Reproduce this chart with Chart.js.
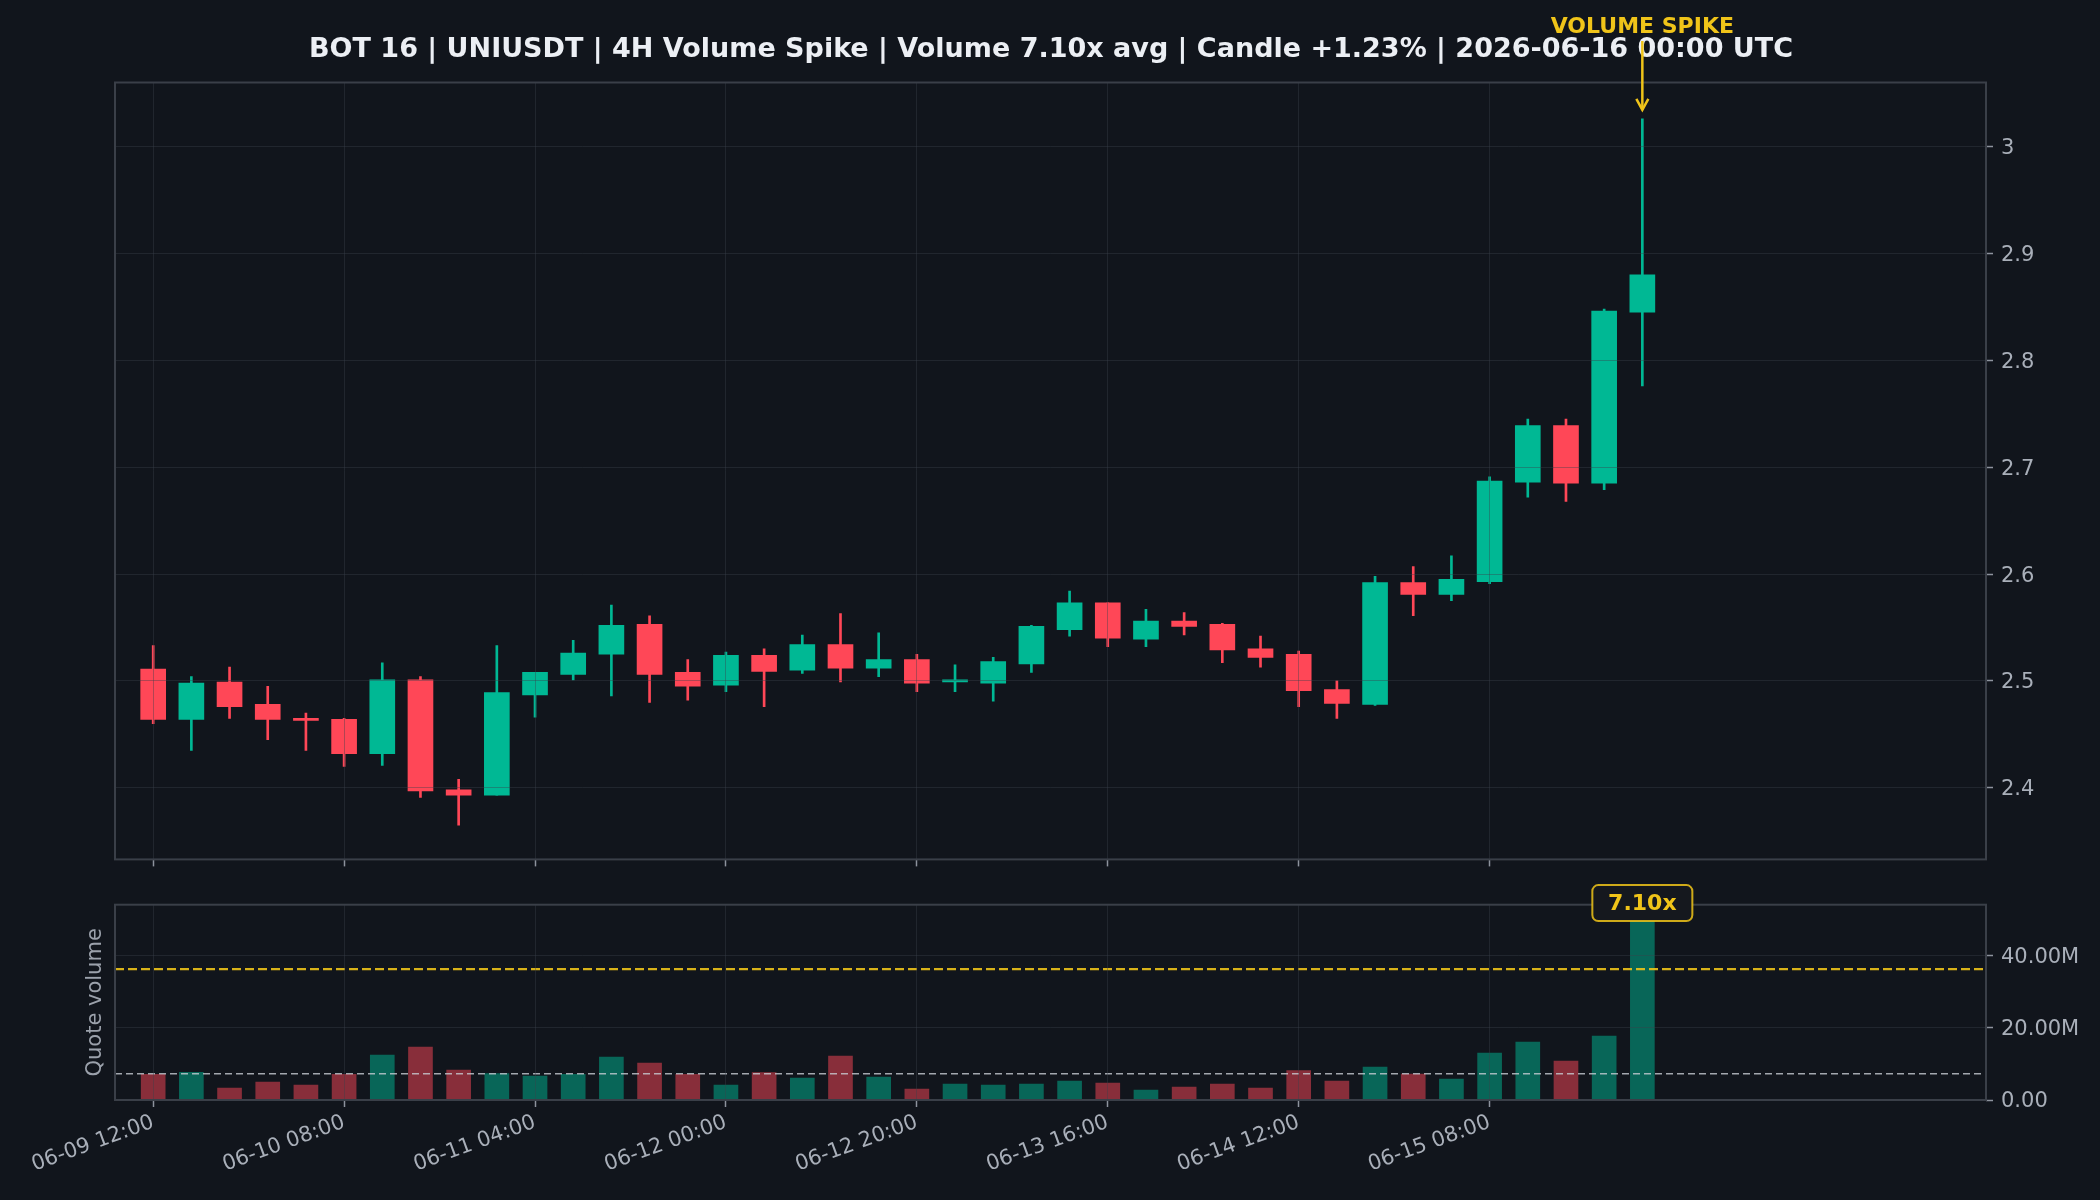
<!DOCTYPE html>
<html>
<head>
<meta charset="utf-8">
<title>UNIUSDT 4H Volume Spike</title>
<script src="https://cdn.jsdelivr.net/npm/chart.js@4.4.0/dist/chart.umd.min.js"></script>
<style>
  html, body { margin: 0; padding: 0; background: #11151c; }
  #wrap { position: relative; width: 2100px; height: 1200px; overflow: hidden; }
  #priceChart { position: absolute; left: 0; top: 0; }
  #volChart { position: absolute; left: 0; top: 880px; }
</style>
</head>
<body>
<div id="wrap">
  <canvas id="priceChart" width="2100" height="880"></canvas>
  <canvas id="volChart" width="2100" height="320"></canvas>
</div>
<script>
// 4H candles, UNIUSDT
const times = [
  "06-09 12:00", "06-09 16:00", "06-09 20:00", "06-10 00:00", "06-10 04:00",
  "06-10 08:00", "06-10 12:00", "06-10 16:00", "06-10 20:00", "06-11 00:00",
  "06-11 04:00", "06-11 08:00", "06-11 12:00", "06-11 16:00", "06-11 20:00",
  "06-12 00:00", "06-12 04:00", "06-12 08:00", "06-12 12:00", "06-12 16:00",
  "06-12 20:00", "06-13 00:00", "06-13 04:00", "06-13 08:00", "06-13 12:00",
  "06-13 16:00", "06-13 20:00", "06-14 00:00", "06-14 04:00", "06-14 08:00",
  "06-14 12:00", "06-14 16:00", "06-14 20:00", "06-15 00:00", "06-15 04:00",
  "06-15 08:00", "06-15 12:00", "06-15 16:00", "06-15 20:00", "06-16 00:00",
];
const opens = [
  2.511, 2.464, 2.499, 2.478, 2.465, 2.464, 2.432, 2.501, 2.398, 2.393,
  2.487, 2.506, 2.525, 2.553, 2.508, 2.496, 2.524, 2.510, 2.534, 2.512,
  2.520, 2.499, 2.498, 2.516, 2.548, 2.573, 2.539, 2.556, 2.553, 2.530,
  2.525, 2.492, 2.478, 2.592, 2.581, 2.593, 2.686, 2.739, 2.685, 2.845,
];
const highs = [
  2.533, 2.504, 2.513, 2.495, 2.470, 2.465, 2.517, 2.504, 2.408, 2.533,
  2.508, 2.538, 2.571, 2.561, 2.520, 2.527, 2.530, 2.543, 2.563, 2.545,
  2.525, 2.515, 2.522, 2.552, 2.584, 2.573, 2.567, 2.564, 2.554, 2.542,
  2.528, 2.500, 2.598, 2.607, 2.617, 2.691, 2.745, 2.745, 2.848, 3.026,
];
const lows = [
  2.460, 2.435, 2.465, 2.445, 2.435, 2.420, 2.421, 2.391, 2.365, 2.393,
  2.466, 2.501, 2.486, 2.480, 2.482, 2.490, 2.476, 2.507, 2.499, 2.504,
  2.490, 2.490, 2.481, 2.508, 2.542, 2.532, 2.532, 2.543, 2.517, 2.513,
  2.476, 2.465, 2.477, 2.561, 2.575, 2.591, 2.672, 2.668, 2.679, 2.776,
];
const closes = [
  2.464, 2.498, 2.476, 2.464, 2.463, 2.432, 2.501, 2.397, 2.393, 2.489,
  2.508, 2.526, 2.552, 2.506, 2.495, 2.524, 2.509, 2.534, 2.512, 2.520,
  2.498, 2.501, 2.518, 2.551, 2.573, 2.540, 2.556, 2.551, 2.529, 2.522,
  2.491, 2.479, 2.592, 2.581, 2.595, 2.687, 2.739, 2.685, 2.846, 2.880,
];
// quote volume, USDT
const volumes = [
  7.09e6, 7.64e6, 3.31e6, 4.97e6, 4.14e6, 7.09e6, 12.4e6, 14.6e6, 8.28e6, 7.27e6,
  6.62e6, 7.09e6, 11.86e6, 10.2e6, 7.09e6, 4.14e6, 7.54e6, 6.07e6, 12.14e6, 6.35e6,
  3.03e6, 4.41e6, 4.14e6, 4.41e6, 5.24e6, 4.69e6, 2.76e6, 3.59e6, 4.41e6, 3.31e6,
  8.09e6, 5.24e6, 9.1e6, 7.17e6, 5.79e6, 12.97e6, 16.0e6, 10.76e6, 17.66e6, 51.3e6,
];
const avgVolume = 7.23e6;
const spikeThreshold = 36.1e6;
const spikeRatio = 7.10;
const spikeIndex = 39;

const tickIdx = [0, 5, 10, 15, 20, 25, 30, 35];
const priceTicks = [2.4, 2.5, 2.6, 2.7, 2.8, 2.9, 3.0];
const volTicks = [0, 20e6, 40e6];

const titleText =
  "BOT 16 | UNIUSDT | 4H Volume Spike | Volume 7.10x avg | Candle +1.23% | 2026-06-16 00:00 UTC";

const UP = "#00b894";
const DOWN = "#ff4757";
const UP_VOL = "rgba(0, 184, 148, 0.5)";
const DOWN_VOL = "rgba(255, 71, 87, 0.5)";
const YELLOW = "#f0c419";
const GRID = "rgba(58, 65, 76, 0.4)";
const TICK = "#8d939d";
const LABEL = "#a9afb9";
const FRAME = "#3a3f48";

Chart.defaults.font.family = "'DejaVu Sans', sans-serif";

const candleColors = closes.map((c, i) => (c >= opens[i] ? UP : DOWN));
const volColors = closes.map((c, i) => (c >= opens[i] ? UP_VOL : DOWN_VOL));

// rectangle round the plot, like matplotlib spines
const frame = {
  id: "frame",
  afterDraw(chart) {
    const { ctx, chartArea: a } = chart;
    ctx.save();
    ctx.strokeStyle = FRAME;
    ctx.lineWidth = 2;
    ctx.strokeRect(a.left, a.top, a.right - a.left, a.bottom - a.top);
    ctx.restore();
  },
};

const priceDecor = {
  id: "priceDecor",
  afterDraw(chart) {
    const ctx = chart.ctx;
    const x = chart.scales.x.getPixelForValue(spikeIndex);
    const tip = chart.scales.y.getPixelForValue(highs[spikeIndex]) - 9;
    ctx.save();
    ctx.textAlign = "center";
    ctx.textBaseline = "middle";
    ctx.fillStyle = "#eceff4";
    ctx.font = "bold 27px 'DejaVu Sans'";
    ctx.fillText(titleText, 1051, 50);

    ctx.fillStyle = YELLOW;
    ctx.font = "bold 22px 'DejaVu Sans'";
    ctx.fillText("VOLUME SPIKE", x, 27);

    ctx.strokeStyle = YELLOW;
    ctx.lineWidth = 2.5;
    ctx.beginPath();
    ctx.moveTo(x, 41);
    ctx.lineTo(x, tip);
    ctx.stroke();
    ctx.beginPath();
    ctx.moveTo(x - 6, tip - 11);
    ctx.lineTo(x, tip);
    ctx.lineTo(x + 6, tip - 11);
    ctx.stroke();
    ctx.restore();
  },
};

const volDecor = {
  id: "volDecor",
  afterDraw(chart) {
    const ctx = chart.ctx;
    const a = chart.chartArea;
    ctx.save();
    ctx.translate(96, (a.top + a.bottom) / 2);
    ctx.rotate(-Math.PI / 2);
    ctx.fillStyle = "#9ba1ab";
    ctx.font = "21px 'DejaVu Sans'";
    ctx.textAlign = "center";
    ctx.textBaseline = "middle";
    ctx.fillText("Quote volume", 0, 0);
    ctx.restore();

    // ratio badge above the spike bar
    const x = chart.scales.x.getPixelForValue(spikeIndex);
    const y = chart.scales.y.getPixelForValue(volumes[spikeIndex]) - 11;
    ctx.save();
    ctx.beginPath();
    ctx.roundRect(x - 50, y - 18, 100, 36, 6);
    ctx.fillStyle = "#15181e";
    ctx.fill();
    ctx.strokeStyle = "rgba(240, 196, 25, 0.85)";
    ctx.lineWidth = 2;
    ctx.stroke();
    ctx.fillStyle = YELLOW;
    ctx.font = "bold 22px 'DejaVu Sans'";
    ctx.textAlign = "center";
    ctx.textBaseline = "middle";
    ctx.fillText(spikeRatio.toFixed(2) + "x", x, y + 1);
    ctx.restore();
  },
};

const xScale = (height, showLabels) => ({
  type: "linear",
  min: -1,
  max: 48,
  offset: false,
  afterBuildTicks: (s) => {
    s.ticks = tickIdx.map((v) => ({ value: v }));
  },
  afterFit: (s) => {
    s.height = height;
  },
  grid: {
    color: GRID,
    z: 1,
    offset: false,
    tickLength: 7,
    tickColor: TICK,
    tickWidth: 1.5,
  },
  border: { display: false },
  ticks: {
    display: showLabels,
    color: LABEL,
    font: { size: 21 },
    minRotation: 20,
    maxRotation: 20,
    autoSkip: false,
    padding: 3,
    callback: (v) => times[v],
  },
});

new Chart(document.getElementById("priceChart"), {
  type: "bar",
  data: {
    datasets: [
      {
        label: "body",
        data: opens.map((o, i) => ({ x: i, y: [o, closes[i]] })),
        backgroundColor: candleColors,
        barThickness: 25,
        grouped: false,
        order: 0,
      },
      {
        label: "wick",
        data: lows.map((l, i) => ({ x: i, y: [l, highs[i]] })),
        backgroundColor: candleColors,
        barThickness: 2,
        grouped: false,
        order: 1,
      },
    ],
  },
  options: {
    responsive: false,
    animation: false,
    events: [],
    layout: { padding: { left: 115, top: 82.5, right: 0, bottom: 0 } },
    plugins: { legend: { display: false }, tooltip: { enabled: false } },
    scales: {
      x: xScale(19.5, false),
      y: {
        position: "right",
        min: 2.333,
        max: 3.06,
        afterBuildTicks: (s) => {
          s.ticks = priceTicks.map((v) => ({ value: v }));
        },
        afterFit: (s) => {
          s.width = 114;
        },
        grid: { color: GRID, z: 1, tickLength: 7, tickColor: TICK, tickWidth: 1.5 },
        border: { display: false },
        ticks: {
          color: LABEL,
          font: { size: 21 },
          padding: 8,
          labelOffset: 2,
          callback: (v) => String(+v.toFixed(1)),
        },
      },
    },
  },
  plugins: [frame, priceDecor],
});

new Chart(document.getElementById("volChart"), {
  type: "bar",
  data: {
    datasets: [
      {
        type: "line",
        label: "spike threshold",
        data: [
          { x: -1, y: spikeThreshold },
          { x: 48, y: spikeThreshold },
        ],
        borderColor: "rgba(240, 196, 25, 0.9)",
        borderWidth: 2.2,
        borderDash: [9, 4],
        pointRadius: 0,
      },
      {
        type: "line",
        label: "average",
        data: [
          { x: -1, y: avgVolume },
          { x: 48, y: avgVolume },
        ],
        borderColor: "rgba(200, 205, 212, 0.8)",
        borderWidth: 1.6,
        borderDash: [7, 4],
        pointRadius: 0,
      },
      {
        label: "quote volume",
        data: volumes.map((v, i) => ({ x: i, y: v })),
        backgroundColor: volColors,
        barThickness: 24,
        grouped: false,
      },
    ],
  },
  options: {
    responsive: false,
    animation: false,
    events: [],
    layout: { padding: { left: 115, top: 24.7, right: 0, bottom: 0 } },
    plugins: { legend: { display: false }, tooltip: { enabled: false } },
    scales: {
      x: xScale(100, true),
      y: {
        position: "right",
        min: 0,
        max: 53.9e6,
        afterBuildTicks: (s) => {
          s.ticks = volTicks.map((v) => ({ value: v }));
        },
        afterFit: (s) => {
          s.width = 114;
        },
        grid: { color: GRID, z: 1, tickLength: 7, tickColor: TICK, tickWidth: 1.5 },
        border: { display: false },
        ticks: {
          color: LABEL,
          font: { size: 21 },
          padding: 8,
          labelOffset: 2,
          callback: (v) => (v === 0 ? "0.00" : (v / 1e6).toFixed(2) + "M"),
        },
      },
    },
  },
  plugins: [frame, volDecor],
});
</script>
</body>
</html>
